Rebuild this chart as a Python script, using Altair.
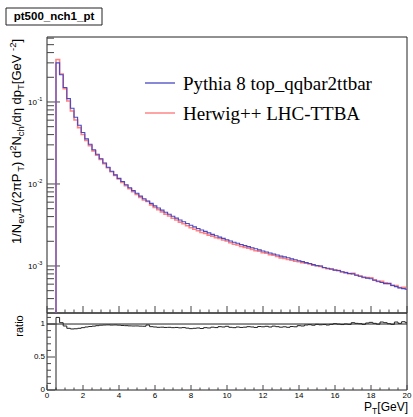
import altair as alt
import pandas as pd

# ---------------- data ----------------
pt_low_edges = [round(0.5 + 0.2 * i, 1) for i in range(98)]   # 0.2 GeV bins from 0.5
pt_end = 20.0

pythia = [0.300, 0.215, 0.150, 0.110, 0.084, 0.065, 0.052, 0.0425, 0.0355, 0.0305,
          0.0262, 0.0230, 0.0203, 0.0180, 0.0160, 0.0143, 0.0129, 0.0117, 0.0107, 0.0098,
          0.0090, 0.0083, 0.0077, 0.0071, 0.0066, 0.0062, 0.0058, 0.0054, 0.0051, 0.0048,
          0.00452, 0.00428, 0.00404, 0.00383, 0.00364, 0.00346, 0.00330, 0.00314, 0.00300, 0.00287,
          0.00275, 0.00264, 0.00253, 0.00243, 0.00234, 0.00225, 0.00217, 0.00209, 0.00202, 0.00195,
          0.00189, 0.00183, 0.00177, 0.00172, 0.00167, 0.00162, 0.00157, 0.00152, 0.00148, 0.00144,
          0.00140, 0.00136, 0.00132, 0.00129, 0.00126, 0.00122, 0.00119, 0.00116, 0.00113, 0.00110,
          0.00107, 0.00104, 0.00101, 0.00100, 0.00096, 0.00094, 0.00092, 0.00089, 0.00088, 0.00085,
          0.00083, 0.00081, 0.00080, 0.00077, 0.00075, 0.00073, 0.00071, 0.00070, 0.00067, 0.00065,
          0.00063, 0.00061, 0.00061, 0.00058, 0.00056, 0.00054, 0.00053, 0.00052]

ratio = [1.10, 1.02, 0.970, 0.935, 0.925, 0.928, 0.935, 0.945, 0.955, 0.962,
         0.968, 0.975, 0.982, 0.985, 0.987, 0.984, 0.986, 0.983, 0.978, 0.975,
         0.972, 0.970, 0.971, 0.968, 0.966, 0.985, 0.960, 0.955, 0.950, 0.952,
         0.948, 0.950, 0.945, 0.948, 0.942, 0.946, 0.938, 0.930, 0.935, 0.940,
         0.932, 0.945, 0.940, 0.952, 0.946, 0.960, 0.955, 0.965, 0.950, 0.945,
         0.955, 0.948, 0.952, 0.960, 0.955, 0.948, 0.962, 0.958, 0.965, 0.955,
         0.968, 0.960, 0.952, 0.958, 0.950, 0.962, 0.958, 0.975, 0.970, 0.985,
         0.990, 0.982, 0.995, 0.988, 0.992, 0.985, 0.995, 1.005, 0.998, 0.992,
         1.000, 0.995, 1.020, 1.010, 1.005, 0.995, 1.015, 1.025, 1.010, 0.998,
         1.030, 1.020, 1.005, 0.995, 1.030, 1.010, 1.035, 1.020]

series_names = ["Pythia 8 top_qqbar2ttbar", "Herwig++ LHC-TTBA"]
y_decades = [1e-3, 1e-2, 1e-1]
y_decade_exp = ["-3", "-2", "-1"]
x_tick_values = [0, 2, 4, 6, 8, 10, 12, 14, 16, 18, 20]
ratio_tick_values = [0, 0.5, 1]
ratio_tick_labels = ["0", "0.5", "1"]
title_text = "pt500_nch1_pt"

# ---------------- layout ----------------
W, HT, HA = 360, 276, 353
LOG_DOM = [2.67e-4, 0.62]
RAT_DOM = [0, 1.167]
SANS = "Liberation Sans"
SERIF = "Liberation Serif"
BLUE = "#4848c4"
RED = "#ff7373"
NB = "\u00a0"

xs = alt.Scale(domain=[0, 20], nice=False, zero=False)


def ys_top():
    return alt.Scale(type="log", domain=LOG_DOM, range=[HT, 0], nice=False)


def ys_rat():
    return alt.Scale(domain=RAT_DOM, range=[HA, HT], nice=False, zero=False)


one = pd.DataFrame({"a": [0]})
layers = []


def text_at(txt, x, y, size, angle=0, align="left", baseline="alphabetic",
            font=SANS, weight="normal", color="black"):
    kw = dict(align=align, baseline=baseline, font=font, fontSize=size,
              fontWeight=weight, color=color)
    if angle:
        kw["angle"] = angle
    return alt.Chart(one).mark_text(**kw).encode(
        x=alt.value(x), y=alt.value(y), text=alt.value(txt))


# histogram tables
hist = pd.DataFrame({"pt": pt_low_edges, "pythia": pythia, "ratio": ratio})
hist["herwig"] = hist["pythia"] * hist["ratio"]
start = pd.DataFrame({"pt": [pt_low_edges[0]], "pythia": [LOG_DOM[0]],
                      "ratio": [0.0], "herwig": [LOG_DOM[0]]})
end = hist.iloc[[-1]].copy()
end["pt"] = pt_end
hist = pd.concat([start, hist, end], ignore_index=True)
hist["idx"] = range(len(hist))

# frames
for y1, y2 in [(0, HT), (HT, HA)]:
    layers.append(alt.Chart(one).mark_rect(fillOpacity=0, stroke="#222", strokeWidth=1).encode(
        x=alt.value(0), x2=alt.value(W), y=alt.value(y1), y2=alt.value(y2)))

# top-panel y ticks
minor_top = [k * 10.0 ** e for e in (-4, -3, -2, -1) for k in range(2, 10)
             if LOG_DOM[0] <= k * 10.0 ** e <= LOG_DOM[1]]
for vals, ln in [(y_decades, 13), (minor_top, 7)]:
    layers.append(alt.Chart(pd.DataFrame({"v": vals})).mark_rule(color="#444", strokeWidth=1).encode(
        y=alt.Y("v:Q", scale=ys_top(), axis=None), x=alt.value(0), x2=alt.value(ln)))

# top-panel bottom ticks (pointing up) and ratio-panel bottom ticks
maj_x = [float(v) for v in x_tick_values]
min_x = [v / 2 for v in range(0, 41) if v % 4 != 0]
for vals, y1, y2 in [(maj_x, HT, HT - 7), (min_x, HT, HT - 3.5),
                     (maj_x, HA, HA - 5), (min_x, HA, HA - 2.5)]:
    layers.append(alt.Chart(pd.DataFrame({"v": vals})).mark_rule(color="#444", strokeWidth=1).encode(
        x=alt.X("v:Q", scale=xs, axis=None), y=alt.value(y1), y2=alt.value(y2)))

# ratio y ticks
min_r = [round(0.1 * i, 1) for i in range(1, 12) if i not in (5, 10)]
for vals, ln in [(ratio_tick_values, 8), (min_r, 4)]:
    layers.append(alt.Chart(pd.DataFrame({"v": vals})).mark_rule(color="#444", strokeWidth=1).encode(
        y=alt.Y("v:Q", scale=ys_rat(), axis=None), x=alt.value(0), x2=alt.value(ln)))

# ratio = 1 reference line
layers.append(alt.Chart(pd.DataFrame({"v": [1.0]})).mark_rule(color="#222", strokeWidth=1).encode(
    y=alt.Y("v:Q", scale=ys_rat(), axis=None), x=alt.value(0), x2=alt.value(W)))

# spectra
layers.append(alt.Chart(hist).mark_line(interpolate="step-after", color=RED, strokeWidth=1.6,
                                        opacity=0.9, clip=True).encode(
    x=alt.X("pt:Q", scale=xs, axis=None),
    y=alt.Y("herwig:Q", scale=ys_top(), axis=None),
    order="idx:Q"))
layers.append(alt.Chart(hist).mark_line(interpolate="step-after", color=BLUE, strokeWidth=1.1,
                                        clip=True).encode(
    x=alt.X("pt:Q", scale=xs, axis=None),
    y=alt.Y("pythia:Q", scale=ys_top(), axis=None),
    order="idx:Q"))
# ratio
layers.append(alt.Chart(hist).mark_line(interpolate="step-after", color="#222", strokeWidth=1,
                                        clip=True).encode(
    x=alt.X("pt:Q", scale=xs, axis=None),
    y=alt.Y("ratio:Q", scale=ys_rat(), axis=None),
    order="idx:Q"))

# top y tick labels: 10^n
lab_df = pd.DataFrame({"v": y_decades, "e": y_decade_exp})
layers.append(alt.Chart(lab_df).mark_text(align="right", baseline="middle", font=SANS,
                                          fontSize=8, dy=1).encode(
    y=alt.Y("v:Q", scale=ys_top(), axis=None), x=alt.value(-10), text=alt.value("10")))
layers.append(alt.Chart(lab_df).mark_text(align="left", baseline="middle", font=SANS,
                                          fontSize=5.5, dy=-3).encode(
    y=alt.Y("v:Q", scale=ys_top(), axis=None), x=alt.value(-9.5), text="e:N"))

# ratio y tick labels
layers.append(alt.Chart(pd.DataFrame({"v": ratio_tick_values, "t": ratio_tick_labels})).mark_text(
    align="right", baseline="middle", font=SANS, fontSize=8).encode(
    y=alt.Y("v:Q", scale=ys_rat(), axis=None), x=alt.value(-2), text="t:N"))

# x tick labels
layers.append(alt.Chart(pd.DataFrame({"v": x_tick_values})).mark_text(
    align="center", baseline="middle", font=SANS, fontSize=8).encode(
    x=alt.X("v:Q", scale=xs, axis=None), y=alt.value(HA + 6), text="v:N"))

# x title  P_T[GeV]
AR = {'1': 556, '/': 278, 'N': 722, 'e': 556, 'v': 500, ' ': 278, NB: 278, '(': 333, '2': 556,
      'π': 560, 'P': 667, 'T': 611, ')': 333, 'd': 556, 'c': 500, 'h': 556, 'η': 556,
      'p': 556, '[': 278, 'G': 778, 'V': 667, '-': 333, ']': 278}


def tw(s, size):
    return sum(AR.get(ch, 556) for ch in s) * size / 1000.0


XT_R, XT_B, MS, SS = 361, 374, 12, 8.5
w_gev = tw("[GeV]", MS)
w_t = tw("T", SS)
layers.append(text_at("[GeV]", XT_R, XT_B, MS, align="right"))
layers.append(text_at("T", XT_R - w_gev, XT_B + 2.5, SS, align="right"))
layers.append(text_at("P", XT_R - w_gev - w_t, XT_B, MS, align="right"))

# y title (rotated, built from segments with sub/superscripts)
segs = [("1/N", 0), ("ev", 1), (NB + "1/(2πP", 0), ("T", 1), (")" + NB + "d", 0), ("2", 2),
        ("N", 0), ("ch", 1), ("/dη" + NB + "dp", 0), ("T", 1), (NB + "[GeV", 0), ("-2", 2),
        ("]", 0)]
YM, YS = 13, 9.5
ypos = 207.0
XB = -26
for s, kind in segs:
    size = YM if kind == 0 else YS
    xoff = 0 if kind == 0 else (3 if kind == 1 else -5)
    layers.append(text_at(s, XB + xoff, ypos, size, angle=270, align="left"))
    ypos -= tw(s, size)

# ratio title
layers.append(text_at("ratio", -24, 289, 11, angle=270, align="center"))

# legend
for i, (name, col) in enumerate(zip(series_names, [BLUE, RED])):
    yy = 46 + 30 * i
    layers.append(alt.Chart(one).mark_rule(color=col, strokeWidth=1.3).encode(
        x=alt.value(98), x2=alt.value(128), y=alt.value(yy)))
    layers.append(text_at(name, 136, yy + 6.5, 19, font=SERIF))

# title box
layers.append(alt.Chart(one).mark_rect(fill="white", stroke="#222", strokeWidth=1).encode(
    x=alt.value(-41), x2=alt.value(55), y=alt.value(-29), y2=alt.value(-12)))
layers.append(text_at(title_text, 7, -20.5, 11.5, align="center", baseline="middle",
                      weight="bold"))

chart = alt.layer(*layers).resolve_scale(y="independent").properties(
    width=W, height=HA,
    padding={"left": 47, "top": 37, "right": 6, "bottom": 27},
    autosize=alt.AutoSizeParams(type="none"),
    background="white",
).configure_view(stroke=None)

chart.save("out.html", embed_options={"renderer": "svg", "actions": False})
